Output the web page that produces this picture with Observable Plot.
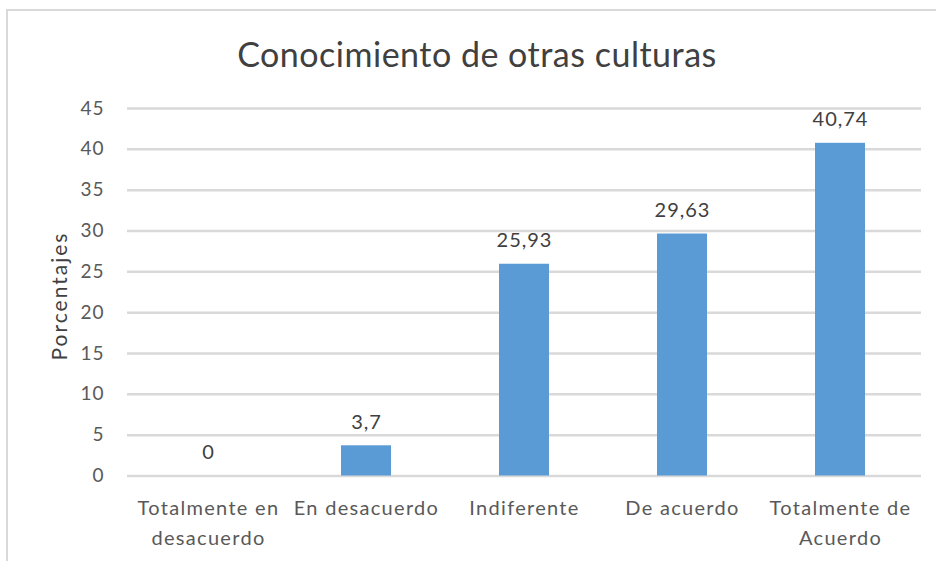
<!DOCTYPE html>
<html>
<head>
<meta charset="utf-8">
<script src="https://cdn.jsdelivr.net/npm/d3@7"></script>
<script src="https://cdn.jsdelivr.net/npm/@observablehq/plot@0.6"></script>
<style>
  html, body { margin: 0; padding: 0; background: #fff; overflow: hidden; }
  #wrap { position: relative; width: 936px; height: 561px; font-family: Lato, "Open Sans", sans-serif; }
  #border { position: absolute; left: 6px; top: 9px; width: 1000px; height: 1000px;
            border-left: 2px solid #d9d9d9; border-top: 2px solid #d9d9d9; }
  #title { position: absolute; left: 0; width: 954px; top: 33px; text-align: center;
           font-size: 34px; letter-spacing: 0.5px; color: #404040; line-height: 42px; }
  #ylabel { position: absolute; left: 58px; top: 296px; transform: translate(-50%, -50%) rotate(-90deg);
            font-size: 21px; letter-spacing: 2px; color: #404040; white-space: nowrap; }
  #chart { position: absolute; left: 0; top: 0; }
</style>
</head>
<body>
<div id="wrap">
  <div id="border"></div>
  <div id="chart"></div>
  <div id="title">Conocimiento de otras culturas</div>
  <div id="ylabel">Porcentajes</div>
</div>
<script>
const categories = ["Totalmente en desacuerdo", "En desacuerdo", "Indiferente", "De acuerdo", "Totalmente de Acuerdo"];
const tickLabels = ["Totalmente en\ndesacuerdo", "En desacuerdo", "Indiferente", "De acuerdo", "Totalmente de\nAcuerdo"];
const values = [0, 3.7, 25.93, 29.63, 40.74];
const yTicks = [0, 5, 10, 15, 20, 25, 30, 35, 40, 45];

const data = categories.map((c, i) => ({category: c, value: values[i]}));
const fmt = v => String(v).replace(".", ",");

const chart = Plot.plot({
  width: 936,
  height: 561,
  marginTop: 108,
  marginBottom: 85.5,
  marginLeft: 127,
  marginRight: 15,
  style: { fontFamily: "Lato, 'Open Sans', sans-serif", background: "transparent", overflow: "visible" },
  x: { type: "band", domain: categories, paddingInner: 0.685, paddingOuter: 0.3425 },
  y: { domain: [0, 45] },
  marks: [
    Plot.ruleY(yTicks, { stroke: "#d9d9d9", strokeWidth: 2.5 }),
    Plot.barY(data, { x: "category", y: "value", fill: "#5b9bd5" }),
    Plot.text(data, { x: "category", y: "value", text: d => fmt(d.value), lineAnchor: "bottom", dy: -17,
                      fontSize: 20, fill: "#404040" }),
    Plot.axisY({ ticks: yTicks, tickSize: 0, tickPadding: 23, label: null, fontSize: 19, fill: "#595959" }),
    Plot.axisX({ tickSize: 0, tickPadding: 18, label: null, fontSize: 20, fill: "#595959", lineHeight: 1.5,
                 tickFormat: d => tickLabels[categories.indexOf(d)] })
  ]
});
d3.select(chart).selectAll('g[aria-label="x-axis tick label"]').attr("letter-spacing", "1.3px");
d3.select(chart).selectAll('g[aria-label="y-axis tick label"]').attr("letter-spacing", "1px");
d3.select(chart).selectAll('g[aria-label="text"]').attr("letter-spacing", "1px");
document.getElementById("chart").appendChild(chart);
</script>
</body>
</html>
